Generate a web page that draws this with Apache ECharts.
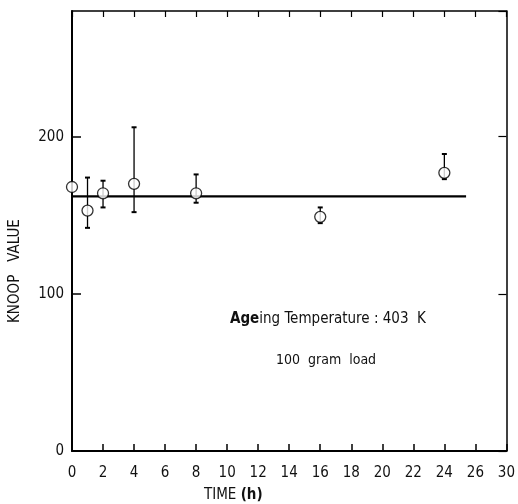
<!DOCTYPE html>
<html>
<head>
<meta charset="utf-8">
<script src="https://cdn.jsdelivr.net/npm/echarts@6/dist/echarts.min.js"></script>
<style>html,body{margin:0;padding:0;background:#fff}#c{width:518px;height:504px}</style>
</head>
<body>
<div id="c"></div>
<script>
// ---- data ----
const times      = [0, 1, 2, 4, 8, 16, 24];
const knoop      = [168, 153, 164, 170, 164, 149, 177];
const errUpper   = [null, 174, 172, 206, 176, 155, 189];
const errLower   = [null, 142, 155, 152, 158, 145, 173];
const fitX       = [0, 25.4];
const fitY       = [162, 162];
const xTickLabels = ['0','2','4','6','8','10','12','14','16','18','20','22','24','26','30'];
const yTickLabels = ['0','100','200'];

const FONT = '"DejaVu Sans Condensed", "DejaVu Sans", sans-serif';
const chart = echarts.init(document.getElementById('c'));

const errData = times.map((t, i) => [t, errLower[i], errUpper[i]]).filter(d => d[1] != null);

chart.setOption({
  animation: false,
  backgroundColor: '#fff',
  grid: { left: 72, right: 9, top: 11, bottom: 53, containLabel: false },
  xAxis: [
    { type: 'value', position: 'bottom', min: 0, max: 28, interval: 2,
      axisLine: { onZero: false, lineStyle: { color: '#000', width: 2 } },
      axisTick: { inside: true, length: 7, lineStyle: { color: '#000', width: 1.5 } },
      axisLabel: { color: '#111', fontFamily: FONT, fontSize: 15, margin: 15,
        formatter: v => xTickLabels[Math.round(v / 2)] },
      splitLine: { show: false } },
    { type: 'value', position: 'top', min: 0, max: 28, interval: 2,
      axisLine: { onZero: false, lineStyle: { color: '#000', width: 1.5 } },
      axisTick: { inside: true, length: 6, lineStyle: { color: '#000', width: 1.2 } },
      axisLabel: { show: false }, splitLine: { show: false } }
  ],
  yAxis: [
    { type: 'value', position: 'left', min: 0, max: 280, interval: 100,
      axisLine: { onZero: false, lineStyle: { color: '#000', width: 2 } },
      axisTick: { inside: true, length: 9, lineStyle: { color: '#000', width: 1.5 } },
      axisLabel: { color: '#111', fontFamily: FONT, fontSize: 15, margin: 8, showMaxLabel: false,
        formatter: v => { const i = Math.round(v / 100); return (v % 100 === 0 && yTickLabels[i]) ? yTickLabels[i] : ''; } },
      splitLine: { show: false } },
    { type: 'value', position: 'right', min: 0, max: 280, interval: 100,
      axisLine: { onZero: false, lineStyle: { color: '#000', width: 1.5 } },
      axisTick: { inside: true, length: 8, lineStyle: { color: '#000', width: 1.2 } },
      axisLabel: { show: false }, splitLine: { show: false } }
  ],
  series: [
    { type: 'line', data: fitX.map((x, i) => [x, fitY[i]]), symbol: 'none',
      lineStyle: { color: '#000', width: 2.2 }, z: 2 },
    { type: 'custom', data: errData, z: 3,
      renderItem: (params, api) => {
        const x = api.value(0);
        const lo = api.coord([x, api.value(1)]);
        const hi = api.coord([x, api.value(2)]);
        const c = 2.5;
        const st = { stroke: '#000', lineWidth: 1.3 };
        return { type: 'group', children: [
          { type: 'line', shape: { x1: lo[0], y1: lo[1], x2: hi[0], y2: hi[1] }, style: st },
          { type: 'line', shape: { x1: lo[0] - c, y1: lo[1], x2: lo[0] + c, y2: lo[1] }, style: { stroke: '#000', lineWidth: 2 } },
          { type: 'line', shape: { x1: hi[0] - c, y1: hi[1], x2: hi[0] + c, y2: hi[1] }, style: { stroke: '#000', lineWidth: 2 } }
        ]};
      } },
    { type: 'scatter', data: times.map((t, i) => [t, knoop[i]]), symbol: 'circle', symbolSize: 11,
      itemStyle: { color: '#fff', borderColor: '#000', borderWidth: 1.3 }, z: 5, clip: false }
  ],
  graphic: [
    { type: 'text', x: 23, y: 323, rotation: Math.PI / 2,
      style: { text: 'KNOOP   VALUE', fontFamily: FONT, fontSize: 15, fill: '#111', textAlign: 'left', textVerticalAlign: 'bottom' } },
    { type: 'text', left: 204, top: 488,
      style: { text: '{n|TIME }{b|(h)}', rich: {
        n: { fontFamily: FONT, fontSize: 15, fill: '#111' },
        b: { fontFamily: FONT, fontSize: 15, fontWeight: 'bold', fill: '#111' } } } },
    { type: 'text', left: 230, top: 312,
      style: { text: '{b|Age}{n|ing Temperature : 403  K}', rich: {
        n: { fontFamily: FONT, fontSize: 15, fill: '#111' },
        b: { fontFamily: FONT, fontSize: 15, fontWeight: 'bold', fill: '#111' } } } },
    { type: 'text', left: 276, top: 353,
      style: { text: '100  gram  load', fontFamily: FONT, fontSize: 14, fill: '#111' } }
  ]
});
</script>
</body>
</html>
